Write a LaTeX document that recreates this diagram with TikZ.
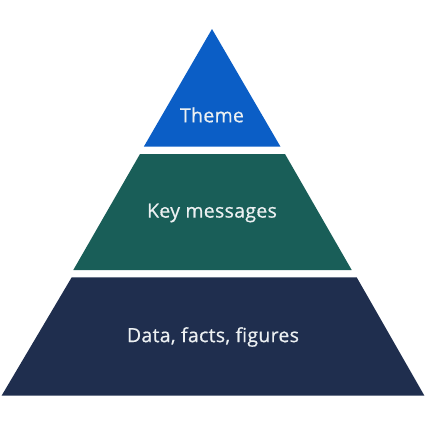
\documentclass[tikz,border=0pt]{standalone}
\usepackage{fontspec}
\setmainfont{Open Sans}[FakeBold=0.6,UprightFont=*,BoldFont=*,LetterSpace=1.5]
\definecolor{themeblue}{RGB}{11,94,198}
\definecolor{keygreen}{RGB}{25,94,88}
\definecolor{datanavy}{RGB}{31,46,78}
\definecolor{labeltext}{RGB}{236,240,242}
\begin{document}
\begin{tikzpicture}[x=1pt,y=-1pt,
  layerlabel/.style={text=labeltext,font=\fontsize{19.5}{23}\selectfont\bfseries,inner sep=0pt,anchor=center}]
\useasboundingbox (0,0) rectangle (426,426);
% top layer
\fill[themeblue] (212,29) -- (280.5,146.7) -- (143.8,146.7) -- cycle;
% middle layer
\fill[keygreen] (140,154) -- (285,154) -- (351.7,270) -- (73.3,270) -- cycle;
% bottom layer
\fill[datanavy] (71.7,277.3) -- (356.7,277.3) -- (424.3,395.5) -- (1.7,395.5) -- cycle;
\node[layerlabel] (theme) at (212,115) {Theme};
\node[layerlabel] (key) at (212,213) {Key messages};
\node[layerlabel] (data) at (213,337) {Data, facts, figures};
\end{tikzpicture}
\end{document}
